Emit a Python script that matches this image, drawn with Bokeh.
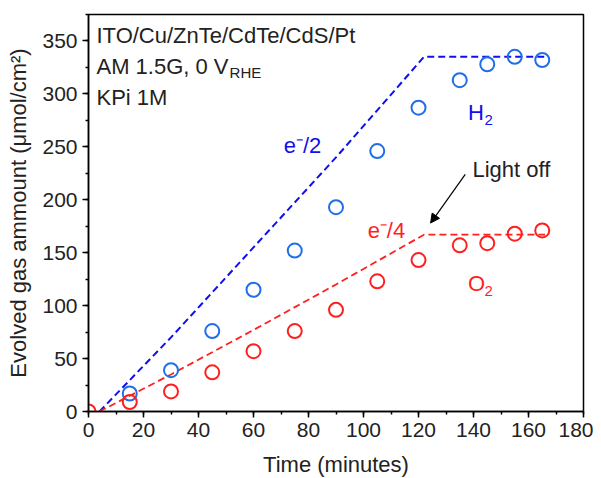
from bokeh.plotting import figure
from bokeh.models import Range1d, FixedTicker, Arrow, NormalHead, Label
from bokeh.embed import file_html
from bokeh.resources import INLINE

# measured points
time_h2 = [15, 30, 45, 60, 75, 90, 105, 120, 135, 145, 155, 165]
h2 = [17, 39, 76, 115, 152, 193, 246, 287, 313, 328, 335, 332]

time_o2 = [0, 15, 30, 45, 60, 75, 90, 105, 120, 135, 145, 155, 165]
o2 = [0, 9, 19, 37, 57, 76, 96, 123, 143, 157, 159, 168, 171]

# faradaic expectation lines
time_calc = [4, 30, 60, 90, 122, 166]
h2_calc = [0, 70, 155, 240, 335, 335]
o2_calc = [0, 35, 77, 120, 167, 167]

x_ticks = list(range(0, 181, 20))
y_ticks = list(range(0, 351, 50))

FONT = "Liberation Sans"
BLUE_PT = "#1f6fe8"
BLUE_LN = "#1010ee"
RED = "#ff1f1f"

p = figure(frame_width=495, frame_height=397, output_backend="svg",
           toolbar_location=None, x_range=Range1d(0, 180), y_range=Range1d(0, 375))
p.min_border_left = 88
p.min_border_right = 10
p.min_border_top = 14
p.min_border_bottom = 56
p.grid.visible = False
p.outline_line_color = "black"
p.outline_line_width = 1.5

p.xaxis.ticker = FixedTicker(ticks=x_ticks, minor_ticks=list(range(0, 181, 10)))
p.yaxis.ticker = FixedTicker(ticks=y_ticks, minor_ticks=list(range(0, 376, 25)))
for ax in (p.xaxis, p.yaxis):
    ax.axis_line_width = 1.5
    ax.major_tick_in = 0
    ax.major_tick_out = 6
    ax.minor_tick_in = 0
    ax.minor_tick_out = 3
    ax.major_tick_line_width = 1.5
    ax.minor_tick_line_width = 1.5
    ax.major_label_text_font = FONT
    ax.major_label_text_font_size = "21px"
    ax.major_label_text_color = "#222222"
    ax.axis_label_text_font = FONT
    ax.axis_label_text_font_size = "22px"
    ax.axis_label_text_font_style = "normal"
    ax.axis_label_text_color = "#222222"
p.xaxis.axis_label = "Time (minutes)"
p.yaxis.axis_label = "Evolved gas ammount (\u03bcmol/cm\u00b2)"
p.xaxis.axis_label_standoff = 12
p.yaxis.axis_label_standoff = 8

p.line(time_calc, h2_calc, line_color=BLUE_LN, line_width=2, line_dash="7 4")
p.line(time_calc, o2_calc, line_color=RED, line_width=1.8, line_dash="7 4")

p.scatter(time_h2, h2, marker="circle", size=14, fill_color=None,
          line_color=BLUE_PT, line_width=2)
p.scatter(time_o2, o2, marker="circle", size=14, fill_color=None,
          line_color=RED, line_width=2)


def label(x, y, txt, color="#222222", size="22px"):
    p.add_layout(Label(x=x, y=y, text=txt, text_color=color, text_font=FONT,
                       text_font_size=size, text_baseline="middle"))


label(2.9, 355, "ITO/Cu/ZnTe/CdTe/CdS/Pt")
label(2.9, 326, "AM 1.5G, 0 V")
label(51.3, 320, "RHE", size="15px")
label(2.9, 297, "KPi 1M")
label(71, 251, "e\u207b/2", color=BLUE_LN)
label(138, 282, "H", color=BLUE_LN)
label(144, 275, "2", color=BLUE_LN, size="15px")
label(139.6, 229, "Light off")
label(101.5, 171, "e\u207b/4", color=RED)
label(138, 121, "O", color=RED)
label(144, 114, "2", color=RED, size="15px")

p.add_layout(Arrow(end=NormalHead(size=9, fill_color="black", line_color="black"),
                   x_start=137, y_start=224, x_end=124.4, y_end=178,
                   line_color="black", line_width=1.2))

open("out.html", "w").write(file_html(p, INLINE))
